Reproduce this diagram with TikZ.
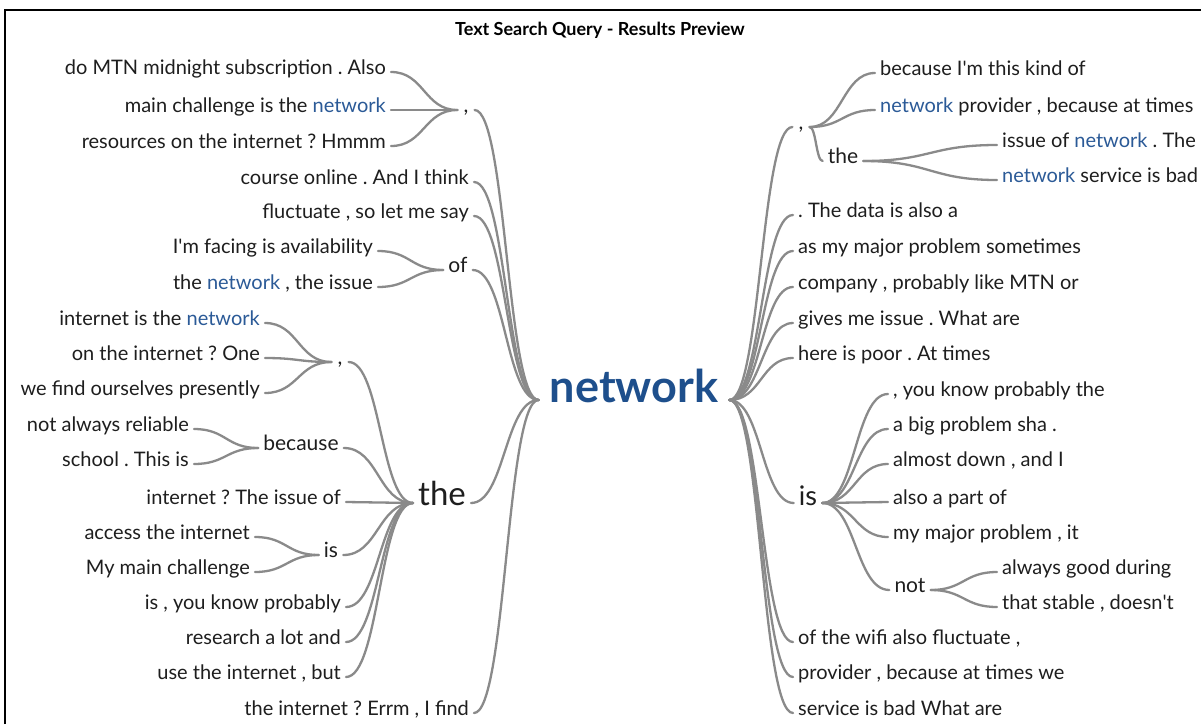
\documentclass[tikz,border=0pt]{standalone}
\usepackage{fontspec}
\setmainfont{Lato}
\usetikzlibrary{calc}
\frenchspacing
\definecolor{wtext}{HTML}{1E1E1E}
\definecolor{kwblue}{HTML}{2B5A97}
\definecolor{netblue}{HTML}{1E4F8C}
\definecolor{linkgray}{HTML}{8A8A8A}
\newcommand\kw[1]{\textcolor{kwblue}{#1}}
\newcommand\apos{\textquotesingle}
\tikzset{
  wt/.style={text=wtext, inner xsep=5pt, inner ysep=2pt,
    text height=0.75em, text depth=0.25em, font=\fontsize{20}{24}\selectfont},
  leafL/.style={wt, anchor=east},
  leafR/.style={wt, anchor=west},
  hub/.style={wt, font=\fontsize{21}{24}\selectfont},
  branch/.style={draw=linkgray, line width=2.3pt, line cap=round,
    to path={let \p1=(\tikztostart), \p2=(\tikztotarget) in
      .. controls ({0.5*(\x1+\x2)},\y1) and ({0.5*(\x1+\x2)},\y2) .. (\tikztotarget)}},
}
\begin{document}
\begin{tikzpicture}[x=1pt,y=-1pt]
\useasboundingbox (0,0) rectangle (1203,724);
\fill[white] (0,0) rectangle (1203,724);
% frame
\draw[line width=1.6pt, black] (5,724) -- (5,10) -- (1201,10);

\node[font=\bfseries\fontsize{18}{20}\selectfont, text=black] (title) at (600,30) {Text Search Query - Results Preview};

% root
\node[wt, font=\bfseries\fontsize{45}{50}\selectfont, text=netblue, inner xsep=11pt] (net) at (634,400) {network};

% ---------- left side ----------
\node[hub, inner xsep=6pt] (cA) at (466,110) {,};
\node[leafL] (a1) at (391,72) {do MTN midnight subscription . Also};
\node[leafL] (a2) at (391,110) {main challenge is the \kw{network}};
\node[leafL] (a3) at (391,146) {resources on the internet ? Hmmm};

\node[leafL] (d1) at (474,182) {course online . And I think};
\node[leafL] (d2) at (474,216) {fluctuate , so let me say};

\node[hub] (ofL) at (458,270) {of};
\node[leafL] (o1) at (378,251) {I\apos m facing is availability};
\node[leafL] (o2) at (378,287) {the \kw{network} , the issue};

\node[wt, font=\fontsize{33}{36}\selectfont] (theL) at (442,503) {the};

\node[hub, inner xsep=6pt] (cB) at (340,362) {,};
\node[leafL] (t1) at (265,323) {internet is the \kw{network}};
\node[leafL] (t2) at (265,358) {on the internet ? One};
\node[leafL] (t3) at (265,393) {we find ourselves presently};

\node[hub] (because) at (301,448) {because};
\node[leafL] (b1) at (194,429) {not always reliable};
\node[leafL] (b2) at (194,464) {school . This is};

\node[leafL] (t4) at (346,502) {internet ? The issue of};

\node[hub] (isL) at (331,555) {is};
\node[leafL] (i1) at (255,537) {access the internet};
\node[leafL] (i2) at (255,572) {My main challenge};

\node[leafL] (t5) at (346,607) {is , you know probably};
\node[leafL] (t6) at (346,642) {research a lot and};
\node[leafL] (t7) at (346,677) {use the internet , but};

\node[leafL] (d3) at (474,713) {the internet ? Errm , I find};

% ---------- right side ----------
\node[hub, inner xsep=6pt] (cR) at (801,127) {,};
\node[leafR] (r1) at (875,73) {because I\apos m this kind of};
\node[leafR] (r2) at (875,110) {\kw{network} provider , because at times};
\node[hub] (theR) at (843,161) {the};
\node[leafR] (r3) at (997,145) {issue of \kw{network} . The};
\node[leafR] (r4) at (997,180) {\kw{network} service is bad};

\node[leafR] (r5) at (793,215) {. The data is also a};
\node[leafR] (r6) at (793,251) {as my major problem sometimes};
\node[leafR] (r7) at (793,287) {company , probably like MTN or};
\node[leafR] (r8) at (793,323) {gives me issue . What are};
\node[leafR] (r9) at (793,358) {here is poor . At times};

\node[wt, font=\fontsize{27}{30}\selectfont] (isR) at (808,503) {is};
\node[leafR] (s1) at (888,394) {, you know probably the};
\node[leafR] (s2) at (888,429) {a big problem sha .};
\node[leafR] (s3) at (888,464) {almost down , and I};
\node[leafR] (s4) at (888,502) {also a part of};
\node[leafR] (s5) at (888,537) {my major problem , it};
\node[hub] (notR) at (910,590) {not};
\node[leafR] (n1) at (997,572) {always good during};
\node[leafR] (n2) at (997,607) {that stable , doesn\apos t};

\node[leafR] (r10) at (793,642) {of the wifi also fluctuate ,};
\node[leafR] (r11) at (793,677) {provider , because at times we};
\node[leafR] (r12) at (793,713) {service is bad What are};

% ---------- branches ----------
\foreach \c in {a1,a2,a3} \draw[branch] (\c.east) to (cA.west);
\foreach \c in {o1,o2} \draw[branch] (\c.east) to (ofL.west);
\foreach \c in {t1,t2,t3} \draw[branch] (\c.east) to (cB.west);
\foreach \c in {b1,b2} \draw[branch] (\c.east) to (because.west);
\foreach \c in {i1,i2} \draw[branch] (\c.east) to (isL.west);
\foreach \c in {cB,because,t4,isL,t5,t6,t7} \draw[branch] (\c.east) to (theL.west);
\foreach \c in {cA,d1,d2,ofL,theL,d3} \draw[branch] (\c.east) to (net.west);

\foreach \c in {cR,r5,r6,r7,r8,r9,isR,r10,r11,r12} \draw[branch] (net.east) to (\c.west);
\foreach \c in {r1,r2,theR} \draw[branch] (cR.east) to (\c.west);
\foreach \c in {r3,r4} \draw[branch] (theR.east) to (\c.west);
\foreach \c in {s1,s2,s3,s4,s5,notR} \draw[branch] (isR.east) to (\c.west);
\foreach \c in {n1,n2} \draw[branch] (notR.east) to (\c.west);
\end{tikzpicture}
\end{document}
